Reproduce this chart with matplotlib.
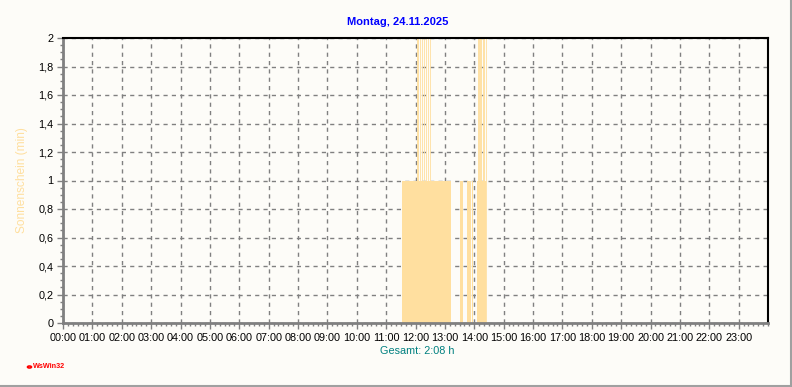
import matplotlib
matplotlib.use("Agg")
import matplotlib.pyplot as plt
from matplotlib.ticker import MultipleLocator, FixedLocator
from matplotlib.lines import Line2D

plt.rcParams['font.family'] = ['Liberation Sans', 'DejaVu Sans']

# Sunshine blocks (start "HH:MM", end "HH:MM", minutes of sunshine per minute)
block_start = ["11:33", "13:30", "13:45", "13:55", "14:05"]
block_end   = ["13:12", "13:36", "13:53", "13:57", "14:25"]
block_value = [1, 1, 1, 1, 1]

# Single minutes with value 2
spike_times = ["12:04", "12:09", "12:13", "12:17", "12:21", "12:25", "12:29",
               "14:08", "14:12", "14:18", "14:24"]
spike_value = [2] * len(spike_times)

hour_labels = [f"{h:02d}:00" for h in range(24)]
y_ticks = [0, 0.2, 0.4, 0.6, 0.8, 1, 1.2, 1.4, 1.6, 1.8, 2]
y_tick_labels = ["0", "0,2", "0,4", "0,6", "0,8", "1", "1,2", "1,4", "1,6", "1,8", "2"]

title = "Montag, 24.11.2025"
ylabel = "Sonnenschein (min)"
total_text = "Gesamt: 2:08 h"

def to_h(s):
    h, m = s.split(":")
    return int(h) + int(m) / 60.0

bg = "#FDFCF8"
bar_col = "#FFDF9F"

fig = plt.figure(figsize=(7.92, 3.87), dpi=100, facecolor=bg)
ax = fig.add_axes([63/792, 1-323/387, (768-63)/792, (323-38)/387])
ax.set_facecolor(bg)

for s, e, v in zip(block_start, block_end, block_value):
    ax.bar(to_h(s), v, width=to_h(e) - to_h(s), align='edge', color=bar_col,
           linewidth=0, zorder=2)
for t, v in zip(spike_times, spike_value):
    ax.bar(to_h(t), v, width=1/60, align='edge', color=bar_col,
           edgecolor=bar_col, linewidth=0.6, zorder=2)

ax.set_xlim(0, 24)
ax.set_ylim(0, 2)
ax.xaxis.set_major_locator(FixedLocator(range(24)))
ax.set_xticklabels(hour_labels)
ax.xaxis.set_minor_locator(MultipleLocator(1/6))
ax.set_yticks(y_ticks)
ax.set_yticklabels(y_tick_labels)
ax.yaxis.set_minor_locator(MultipleLocator(0.05))

ax.tick_params(axis='both', which='major', labelsize=7.8, length=4, width=1,
               color='#808080', direction='out', pad=3)
ax.tick_params(axis='both', which='minor', length=2.5, width=1, color='#808080',
               direction='out')

ax.grid(True, which='major', color='#808080', linestyle=(0, (3, 3)),
        linewidth=1, zorder=1)
ax.set_axisbelow(True)

for side in ('left', 'bottom'):
    ax.spines[side].set_color('#808080')
    ax.spines[side].set_linewidth(2)
for side in ('top', 'right'):
    ax.spines[side].set_color('black')
    ax.spines[side].set_linewidth(1.5)

ax.set_ylabel(ylabel, color=bar_col, fontsize=8.6, labelpad=7)

fig.text(398/792, 1-22/387, title, color='#0000FF', fontsize=8,
         fontweight='bold', ha='center', va='center')
fig.text(417/792, 1-351/387, total_text, color='#008080', fontsize=7.8,
         ha='center', va='center')
fig.text(33/792, 1-367/387, "WsWin32", color='#FF0000', fontsize=5.2,
         fontweight='bold', ha='left', va='center')
fig.patches.append(matplotlib.patches.Circle((29.5/792, 1-367/387), 0.0025,
                   transform=fig.transFigure, facecolor='none',
                   edgecolor='#FF0000', linewidth=1.2))

# figure frame on right and bottom
fig.add_artist(Line2D([0, 790.5/792], [1-385.5/387]*2, transform=fig.transFigure,
                      color='#A0A0A0', linewidth=1.5))
fig.add_artist(Line2D([790.5/792]*2, [1-385.5/387, 1], transform=fig.transFigure,
                      color='#A0A0A0', linewidth=1.5))

fig.savefig("out.png", dpi=100, facecolor=bg)
